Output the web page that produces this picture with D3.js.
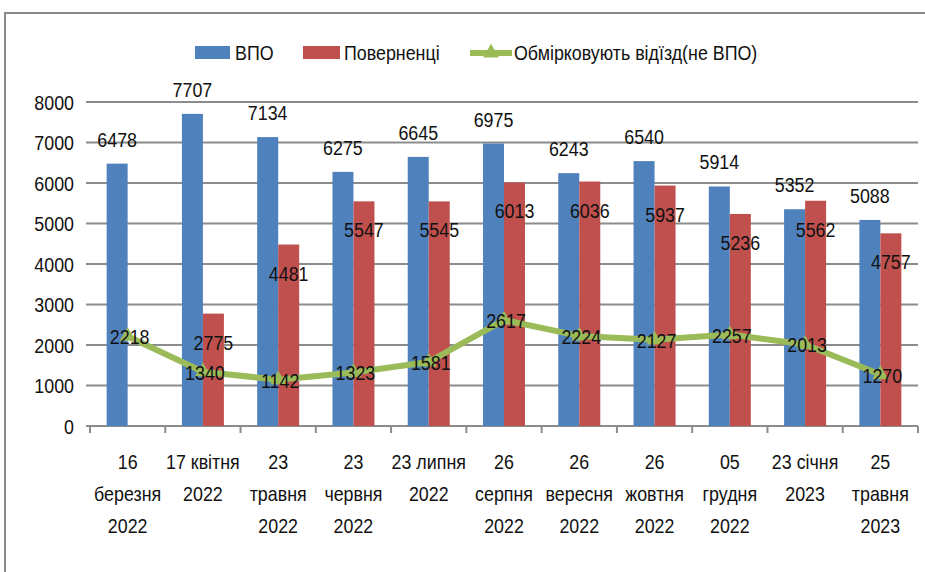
<!DOCTYPE html>
<html><head><meta charset="utf-8">
<script src="https://cdn.jsdelivr.net/npm/d3@7"></script>
<style>
html,body{margin:0;padding:0;background:#fff;}
text{font-family:"Liberation Sans","Arial",sans-serif;fill:#111;}
</style></head>
<body><svg id="c" width="925" height="572"></svg>
<script>
const categories = [
  ["16","березня","2022"],
  ["17 квітня","2022"],
  ["23","травня","2022"],
  ["23","червня","2022"],
  ["23 липня","2022"],
  ["26","серпня","2022"],
  ["26","вересня","2022"],
  ["26","жовтня","2022"],
  ["05","грудня","2022"],
  ["23 січня","2023"],
  ["25","травня","2023"]
];
const vpo = [6478,7707,7134,6275,6645,6975,6243,6540,5914,5352,5088];
const returned = [null,2775,4481,5547,5545,6013,6036,5937,5236,5562,4757];
const considering = [2218,1340,1142,1323,1581,2617,2224,2127,2257,2013,1270];
const yTicks = [0,1000,2000,3000,4000,5000,6000,7000,8000];
const seriesNames = ["ВПО","Поверненці","Обмірковують відїзд(не ВПО)"];
const colors = ["#4F81BD","#C0504D","#9BBB59"];

(function(){
const svg = d3.select("#c");
const pLeft = 90, pRight = 918, pTop = 102, pBottom = 426;
const fs = 21, sx = 0.85;
const tf = (x,y) => `translate(${x},${y}) scale(${sx},1)`;

svg.append("rect").attr("x",5).attr("y",13).attr("width",960).attr("height",600)
  .attr("fill","none").attr("stroke","#8a8a8a").attr("stroke-width",2);

const idx = categories.map((d,i)=>i);
const x = d3.scaleBand().domain(idx).range([pLeft,pRight]).paddingInner(0).paddingOuter(0);
const y = d3.scaleLinear().domain([0,8000]).range([pBottom,pTop]);
const bw = 21;

svg.append("g").selectAll("line").data(yTicks).join("line")
  .attr("x1",pLeft-4).attr("x2",pRight).attr("y1",d=>y(d)).attr("y2",d=>y(d))
  .attr("stroke","#8c8c8c").attr("stroke-width",2);

svg.append("g").selectAll("text").data(yTicks).join("text")
  .attr("transform",d=>tf(74,y(d)+7.5)).attr("text-anchor","end")
  .style("font-size",fs+"px").text(d=>d);

const tickPos = idx.map(i=>x(i)).concat([pRight]);
svg.append("g").selectAll("line").data(tickPos).join("line")
  .attr("x1",d=>d).attr("x2",d=>d).attr("y1",pBottom).attr("y2",pBottom+7)
  .attr("stroke","#8c8c8c").attr("stroke-width",2);

const cx = i => x(i) + x.bandwidth()/2;
svg.append("g").selectAll("rect").data(vpo).join("rect")
  .attr("x",(d,i)=>cx(i)-bw).attr("width",bw)
  .attr("y",d=>y(d)).attr("height",d=>y(0)-y(d)).attr("fill",colors[0]);
const ret = returned.map((v,i)=>({v,i})).filter(d=>d.v!=null);
svg.append("g").selectAll("rect").data(ret).join("rect")
  .attr("x",d=>cx(d.i)).attr("width",bw)
  .attr("y",d=>y(d.v)).attr("height",d=>y(0)-y(d.v)).attr("fill",colors[1]);

const line = d3.line().x((d,i)=>cx(i)).y(d=>y(d));
svg.append("path").datum(considering).attr("d",line).attr("fill","none")
  .attr("stroke",colors[2]).attr("stroke-width",6).attr("stroke-linejoin","round");
const tri = d3.symbol().type(d3.symbolTriangle).size(110);
svg.append("g").selectAll("path").data(considering).join("path")
  .attr("d",tri).attr("transform",(d,i)=>`translate(${cx(i)},${y(d)})`).attr("fill",colors[2]);

svg.append("g").selectAll("text").data(vpo).join("text")
  .attr("transform",(d,i)=>tf(cx(i)-bw/2,y(d)-17)).attr("text-anchor","middle")
  .style("font-size",fs+"px").text(d=>d);
svg.append("g").selectAll("text").data(ret).join("text")
  .attr("transform",d=>tf(cx(d.i)+bw/2,y(d.v)+36)).attr("text-anchor","middle")
  .style("font-size",fs+"px").text(d=>d.v);
svg.append("g").selectAll("text").data(considering).join("text")
  .attr("transform",(d,i)=>tf(cx(i)+2,y(d)+8)).attr("text-anchor","middle")
  .style("font-size",fs+"px").text(d=>d);

const xl = svg.append("g").selectAll("text").data(categories).join("text")
  .attr("text-anchor","middle").style("font-size",fs+"px")
  .attr("transform",(d,i)=>tf(cx(i),469));
xl.each(function(lines){
  d3.select(this).selectAll("tspan").data(lines).join("tspan")
    .attr("x",0).attr("y",(l,j)=>j*32).text(l=>l);
});

const lg = svg.append("g");
lg.append("rect").attr("x",195).attr("y",46).attr("width",35).attr("height",13).attr("fill",colors[0]);
lg.append("text").attr("transform",tf(235,60)).style("font-size",fs+"px").text(seriesNames[0]);
lg.append("rect").attr("x",303).attr("y",46).attr("width",37).attr("height",13).attr("fill",colors[1]);
lg.append("text").attr("transform",tf(344,60)).style("font-size",fs+"px").text(seriesNames[1]);
lg.append("line").attr("x1",470).attr("x2",512).attr("y1",53).attr("y2",53).attr("stroke",colors[2]).attr("stroke-width",6);
lg.append("path").attr("d",tri).attr("transform","translate(491,53)").attr("fill",colors[2]);
lg.append("text").attr("transform",tf(514,60)).style("font-size",fs+"px").text(seriesNames[2]);
})();
</script></body></html>
